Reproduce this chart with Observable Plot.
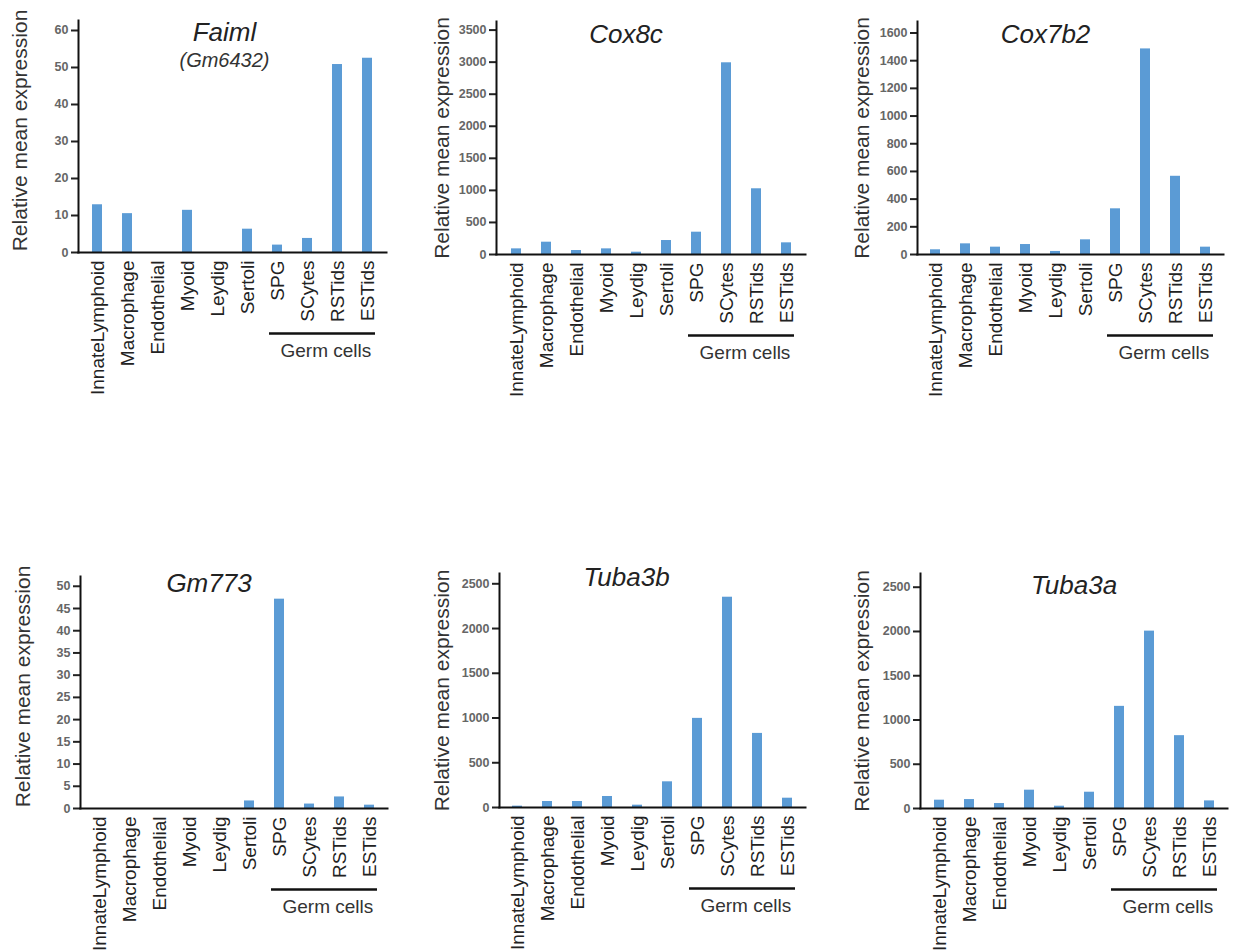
<!DOCTYPE html>
<html><head><meta charset="utf-8">
<script src="https://cdn.jsdelivr.net/npm/d3@7"></script>
<script src="https://cdn.jsdelivr.net/npm/@observablehq/plot@0.6"></script>
<style>
body{margin:0;background:#fff;}
#wrap{position:relative;width:1235px;height:952px;overflow:hidden;background:#fff;}
.panel{position:absolute;}
</style></head><body><div id="wrap"></div>
<script>
// ---- data ----
const categories = ["InnateLymphoid","Macrophage","Endothelial","Myoid","Leydig","Sertoli","SPG","SCytes","RSTids","ESTids"];
const germCells = ["SPG","SCytes","RSTids","ESTids"];
const genes = ["Faiml","Cox8c","Cox7b2","Gm773","Tuba3b","Tuba3a"];
const geneSubtitles = ["(Gm6432)","","","","",""];
const yLabel = "Relative mean expression";
const germLabel = "Germ cells";

const faimlValues  = [12.9, 10.5, 0, 11.4, 0, 6.3, 2.0, 3.8, 50.8, 52.5];
const cox8cValues  = [88, 192, 62, 88, 36, 218, 348, 2990, 1025, 182];
const cox7b2Values = [34, 77, 53, 72, 22, 106, 330, 1485, 565, 53];
const gm773Values  = [0, 0, 0, 0, 0, 1.7, 47.1, 1.0, 2.6, 0.75];
const tuba3bValues = [15, 67, 67, 123, 26, 287, 996, 2350, 828, 104];
const tuba3aValues = [94, 101, 56, 207, 26, 184, 1154, 2004, 823, 86];

const faimlTicks  = [0,10,20,30,40,50,60];
const cox8cTicks  = [0,500,1000,1500,2000,2500,3000,3500];
const cox7b2Ticks = [0,200,400,600,800,1000,1200,1400,1600];
const gm773Ticks  = [0,5,10,15,20,25,30,35,40,45,50];
const tuba3bTicks = [0,500,1000,1500,2000,2500];
const tuba3aTicks = [0,500,1000,1500,2000,2500];

const allValues = [faimlValues, cox8cValues, cox7b2Values, gm773Values, tuba3bValues, tuba3aValues];
const allTicks  = [faimlTicks, cox8cTicks, cox7b2Ticks, gm773Ticks, tuba3bTicks, tuba3aTicks];
const yMaxes    = [62.7, 3634, 1683, 52.2, 2615, 2655];

// ---- layout (pixels) ----
const layouts = [
  {left:0,   top:0,   width:410, height:400, axisX:78,  xEnd:386,  axisTop:20,  baseline:252, labDx:-58, labDy:-6, tDx:-8,  tDy:2},
  {left:410, top:0,   width:410, height:400, axisX:496, xEnd:805,  axisTop:21,  baseline:254, labDx:-54, labDy:0,  tDx:-25, tDy:3},
  {left:830, top:0,   width:405, height:400, axisX:917, xEnd:1223, axisTop:21,  baseline:254, labDx:-55, labDy:0,  tDx:-25, tDy:3},
  {left:0,   top:550, width:410, height:402, axisX:80,  xEnd:387,  axisTop:576, baseline:808, labDx:-57, labDy:-6, tDx:-25, tDy:-3},
  {left:410, top:550, width:410, height:402, axisX:499, xEnd:805,  axisTop:573, baseline:807, labDx:-57, labDy:0,  tDx:-26, tDy:-6},
  {left:830, top:550, width:405, height:402, axisX:920, xEnd:1227, axisTop:573, baseline:808, labDx:-58, labDy:0,  tDx:0,   tDy:2}
];
const BAR = "#5b9bd5";
const FONT = "'Liberation Sans', Arial, Helvetica, sans-serif";

const wrap = document.getElementById("wrap");
genes.forEach((gene, k) => {
  const L = layouts[k];
  const rows = categories.map((c, i) => ({cell: c, value: allValues[k][i]}));
  const mt = L.axisTop - L.top;
  const mb = L.height - (L.baseline - L.top);
  const ml = L.axisX - L.left;
  const mr = L.left + L.width - L.xEnd;
  const step = (L.xEnd - L.axisX) / categories.length;
  const marks = [
    Plot.barY(rows, {x: "cell", y: "value", fill: BAR}),
    Plot.axisY({ticks: allTicks[k], tickFormat: d3.format("d"), tickSize: 7, tickPadding: 3, strokeWidth: 2, stroke: "#222", fill: "#666", fontSize: 12.5, fontWeight: "bold", label: null}),
    Plot.axisX({tickSize: 0, tickPadding: 8, tickRotate: -90, fontSize: 19, fill: "#222", label: null}),
    Plot.frame({anchor: "left", strokeWidth: 2, stroke: "#111"}),
    Plot.frame({anchor: "bottom", strokeWidth: 2, stroke: "#111"}),
    Plot.ruleY([{y: 0, from: germCells[0], to: germCells[germCells.length - 1]}],
      {x1: "from", x2: "to", y: "y", dy: 81, insetLeft: -3, insetRight: -3, strokeWidth: 2.5, stroke: "#111"}),
    Plot.text([{c: germCells[1], y: 0, t: germLabel}],
      {x: "c", y: "y", text: "t", dx: step / 2 + 3, dy: 98, fontSize: 19, fill: "#333"}),
    Plot.text([yLabel], {frameAnchor: "left", textAnchor: "middle", rotate: -90, dx: L.labDx, dy: L.labDy, fontSize: 21, fill: "#333"}),
    Plot.text([gene], {frameAnchor: "top", textAnchor: "middle", dx: L.tDx, dy: L.tDy, fontSize: 26, fontStyle: "italic", fill: "#222"})
  ];
  if (geneSubtitles[k]) {
    marks.push(Plot.text([geneSubtitles[k]], {frameAnchor: "top", textAnchor: "middle", dx: L.tDx, dy: L.tDy + 30, fontSize: 20, fontStyle: "italic", fill: "#333"}));
  }
  const chart = Plot.plot({
    width: L.width, height: L.height,
    marginTop: mt, marginBottom: mb, marginLeft: ml, marginRight: mr,
    style: {fontFamily: FONT, background: "transparent", overflow: "visible"},
    x: {type: "band", domain: categories, paddingInner: 0.68, paddingOuter: 0.34},
    y: {domain: [0, yMaxes[k]]},
    marks
  });
  const holder = document.createElement("div");
  holder.className = "panel";
  holder.style.left = L.left + "px";
  holder.style.top = L.top + "px";
  holder.appendChild(chart);
  wrap.appendChild(holder);
});
</script></body></html>
